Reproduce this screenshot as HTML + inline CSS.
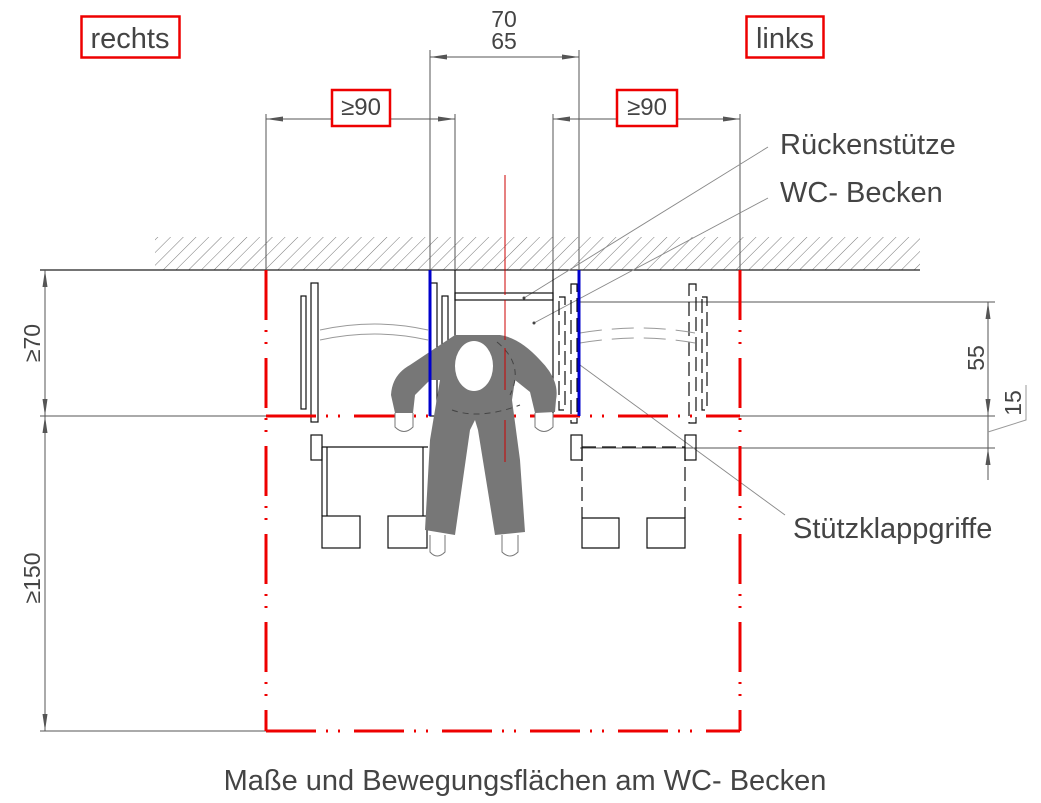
<!DOCTYPE html>
<html><head><meta charset="utf-8"><style>
html,body{margin:0;padding:0;background:#fff;}
svg{display:block;}
text{font-family:"Liberation Sans",Arial,sans-serif;fill:#444;}
</style></head><body>
<svg width="1041" height="803" viewBox="0 0 1041 803" xmlns="http://www.w3.org/2000/svg">
<defs>
<pattern id="h" width="9" height="9" patternUnits="userSpaceOnUse" patternTransform="rotate(45)">
<line x1="0" y1="0" x2="0" y2="9" stroke="#777" stroke-width="1"/>
</pattern>
<marker id="a" viewBox="0 0 17 6" refX="17" refY="3" markerWidth="17" markerHeight="6" orient="auto-start-reverse" markerUnits="userSpaceOnUse">
<path d="M0,0.5 L17,3 L0,5.5 Z" fill="#555"/>
</marker>
</defs>

<rect x="155" y="237" width="765" height="33" fill="url(#h)"/>
<line x1="40" y1="270" x2="920" y2="270" stroke="#222" stroke-width="1.3"/>

<g stroke="#555" stroke-width="1" fill="none">
<line x1="266" y1="114" x2="266" y2="270"/>
<line x1="455" y1="114" x2="455" y2="416"/>
<line x1="430" y1="50" x2="430" y2="270"/>
<line x1="579" y1="50" x2="579" y2="270"/>
<line x1="553" y1="114" x2="553" y2="416"/>
<line x1="740" y1="114" x2="740" y2="270"/>
<line x1="40" y1="416" x2="266" y2="416"/>
<line x1="40" y1="731" x2="266" y2="731"/>
<line x1="580" y1="302" x2="995" y2="302"/>
<line x1="740" y1="416" x2="995" y2="416"/>
<line x1="580" y1="448" x2="995" y2="448"/>
<line x1="266" y1="119" x2="455" y2="119" marker-start="url(#a)" marker-end="url(#a)"/>
<line x1="553" y1="119" x2="740" y2="119" marker-start="url(#a)" marker-end="url(#a)"/>
<line x1="430" y1="57" x2="579" y2="57" marker-start="url(#a)" marker-end="url(#a)"/>
<line x1="45" y1="270" x2="45" y2="416" marker-start="url(#a)" marker-end="url(#a)"/>
<line x1="45" y1="416" x2="45" y2="731" marker-start="url(#a)" marker-end="url(#a)"/>
<line x1="988" y1="302" x2="988" y2="416" marker-start="url(#a)" marker-end="url(#a)"/>
<line x1="988" y1="480" x2="988" y2="448" marker-end="url(#a)"/>
<line x1="988" y1="416" x2="988" y2="448"/>
<polyline points="988,432 1026,420 1026,385" stroke="#999"/>
</g>

<text x="40" y="343" font-size="23" transform="rotate(-90 40 343)" text-anchor="middle">≥70</text>
<text x="40" y="578" font-size="23" transform="rotate(-90 40 578)" text-anchor="middle">≥150</text>
<text x="984" y="358" font-size="23" transform="rotate(-90 984 358)" text-anchor="middle">55</text>
<text x="1021" y="403" font-size="23" transform="rotate(-90 1021 403)" text-anchor="middle">15</text>
<text x="504" y="27" font-size="23" text-anchor="middle">70</text>
<text x="504" y="49" font-size="23" text-anchor="middle">65</text>

<rect x="81.5" y="16.5" width="98" height="41" fill="#fff" stroke="#e00" stroke-width="2.5"/>
<text x="130" y="48" font-size="29" text-anchor="middle">rechts</text>
<rect x="746.5" y="16.5" width="77" height="41" fill="#fff" stroke="#e00" stroke-width="2.5"/>
<text x="785" y="48" font-size="29" text-anchor="middle">links</text>
<rect x="332" y="90" width="58" height="36" fill="#fff" stroke="#e00" stroke-width="2.5"/>
<text x="361" y="115" font-size="24" text-anchor="middle">≥90</text>
<rect x="617" y="90" width="60" height="36" fill="#fff" stroke="#e00" stroke-width="2.5"/>
<text x="647" y="115" font-size="24" text-anchor="middle">≥90</text>

<g stroke="#888" stroke-width="0.9">
<line x1="524" y1="298" x2="768" y2="147"/>
<line x1="534" y1="323" x2="768" y2="198"/>
<line x1="580" y1="365" x2="785" y2="515"/>
</g>
<circle cx="524" cy="298" r="1.5" fill="#444"/>
<circle cx="534" cy="323" r="1.5" fill="#444"/>
<text x="780" y="154" font-size="29">Rückenstütze</text>
<text x="780" y="202" font-size="29">WC- Becken</text>
<text x="793" y="538" font-size="29">Stützklappgriffe</text>

<g stroke="#111" stroke-width="1.2" fill="none">
<line x1="455" y1="270" x2="455" y2="416"/>
<line x1="553" y1="270" x2="553" y2="416"/>
<rect x="455" y="293" width="98" height="7"/>
</g>

<g stroke="#111" stroke-width="1.2" fill="#fff">
<rect x="301" y="296" width="5" height="113"/>
<rect x="311" y="283" width="7" height="139"/>
<rect x="430" y="283" width="7" height="133"/>
<rect x="442" y="296" width="6" height="113"/>
<rect x="311" y="435" width="11" height="25"/>
<line x1="322" y1="447" x2="428" y2="447"/>
<line x1="322" y1="447" x2="322" y2="516"/>
<line x1="327" y1="447" x2="327" y2="516"/>
<line x1="423" y1="447" x2="423" y2="516"/>
<rect x="322" y="516" width="38" height="32"/>
<rect x="388" y="516" width="39" height="32"/>
</g>
<g stroke="#999" fill="none" stroke-width="1">
<path d="M320 330 Q375 318 428 330"/>
<path d="M320 340 Q375 328 428 340"/>
</g>

<g stroke="#111" stroke-width="1.2" fill="none" stroke-dasharray="14 6">
<rect x="559" y="297" width="6" height="113"/>
<rect x="571" y="284" width="6" height="139"/>
<rect x="689" y="284" width="7" height="139"/>
<rect x="702" y="297" width="5" height="113"/>
<line x1="582" y1="447" x2="685" y2="447"/>
<line x1="582" y1="447" x2="582" y2="518"/>
<line x1="685" y1="447" x2="685" y2="518"/>
</g>
<g stroke="#111" stroke-width="1.2" fill="none">
<rect x="571" y="435" width="11" height="25"/>
<rect x="685" y="435" width="11" height="25"/>
<path d="M582 518 V548 H619 V518 H582"/>
<path d="M647 518 H685 V548 H647 Z"/>
</g>
<g stroke="#999" fill="none" stroke-width="1" stroke-dasharray="22 10">
<path d="M580 333 Q640 323 695 333"/>
<path d="M580 343 Q640 333 695 343"/>
</g>

<g stroke="#e00" stroke-width="3" fill="none" stroke-dasharray="50 10 2 10 2 14">
<line x1="266" y1="270" x2="266" y2="731"/>
<line x1="740" y1="270" x2="740" y2="731"/>
<line x1="266" y1="731" x2="740" y2="731"/>
<line x1="266" y1="416" x2="740" y2="416"/>
</g>
<line x1="266" y1="270" x2="266" y2="290" stroke="#e00" stroke-width="3"/>
<line x1="740" y1="270" x2="740" y2="290" stroke="#e00" stroke-width="3"/>

<path d="M455 335 L500 335 Q520 338 540 360 Q560 380 556 400 L555 412 L535 413 L530 392 L515 380 L512 400 L520 460 L525 532 L495 535 L478 430 L475 420 L470 430 L455 535 L425 530 L430 440 L440 380 L430 380 L415 395 L413 413 L395 413 L391 395 Q392 375 410 365 L440 345 Z" fill="#777"/>
<ellipse cx="474" cy="366" rx="19" ry="25" fill="#fff"/>
<g stroke="#777" fill="#fff" stroke-width="1">
<path d="M395 413 V427 Q404 436 413 427 V413"/>
<path d="M535 413 V427 Q544 436 553 427 V413"/>
<path d="M430 535 V552 Q437 560 445 552 V535"/>
<path d="M502 535 V552 Q510 560 518 552 V535"/>
</g>
<g stroke="#444" fill="none" stroke-width="1" stroke-dasharray="6 5">
<path d="M497 342 Q525 365 510 395"/>
<path d="M452 410 Q480 420 520 405"/>
</g>

<line x1="430" y1="270" x2="430" y2="416" stroke="#00c" stroke-width="3"/>
<line x1="579" y1="270" x2="579" y2="416" stroke="#00c" stroke-width="3"/>

<g stroke="#c00" stroke-width="1">
<line x1="505" y1="175" x2="505" y2="295"/>
<line x1="505" y1="300" x2="505" y2="350" stroke-dasharray="40 8 2 8"/>
<line x1="505" y1="350" x2="505" y2="390"/>
<line x1="505" y1="420" x2="505" y2="462"/>
</g>

<text x="525" y="790" font-size="29" text-anchor="middle">Maße und Bewegungsflächen am WC- Becken</text>
</svg>
</body></html>
